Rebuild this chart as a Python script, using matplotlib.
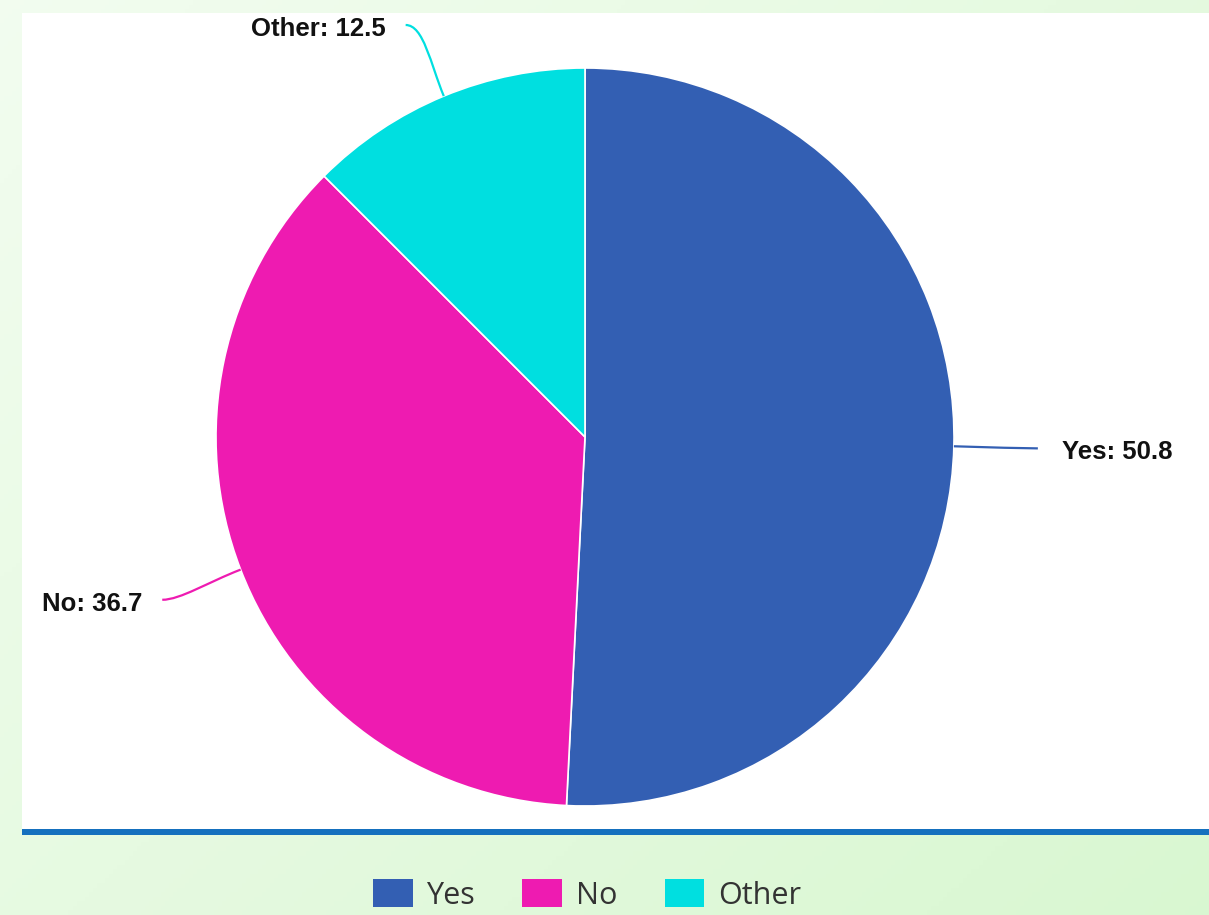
import numpy as np
import matplotlib
matplotlib.use("Agg")
import matplotlib.pyplot as plt
from matplotlib.patches import Rectangle, PathPatch
from matplotlib.path import Path

# data
labels = ["Yes", "No", "Other"]
values = [50.8, 36.7, 12.5]
colors = ["#335fb3", "#ee1bb1", "#00dfe0"]

W, H = 1209, 915
fig = plt.figure(figsize=(W / 100, H / 100), dpi=100)

# light green background
bg = fig.add_axes([0, 0, 1, 1], zorder=0)
bg.set_axis_off()
gx = np.linspace(0, 1, 300)
gy = np.linspace(0, 1, 200)
X, Y = np.meshgrid(gx, gy)
c0 = np.array([0.95, 0.99, 0.94])
c1 = np.array([0.85, 0.97, 0.82])
t = np.clip(0.55 * X + 0.45 * Y, 0, 1)[..., None]
img = c0 * (1 - t) + c1 * t
bg.imshow(img, extent=[0, 1, 0, 1], aspect="auto", origin="upper")
bg.set_xlim(0, 1)
bg.set_ylim(0, 1)

# main axes in pixel coordinates (y up)
ax = fig.add_axes([0, 0, 1, 1], zorder=1)
ax.set_xlim(0, W)
ax.set_ylim(0, H)
ax.set_axis_off()
ax.patch.set_alpha(0)

# white panel and blue bottom rule
ax.add_patch(Rectangle((22, H - 829), W - 22, 829 - 13, facecolor="white", edgecolor="none", zorder=1))
ax.add_patch(Rectangle((22, H - 835), W - 22, 6, facecolor="#1570be", edgecolor="none", zorder=2))

cx, cy, R = 585, H - 437, 369
wedges, _ = ax.pie(values, colors=colors, startangle=90, counterclock=False,
                   center=(cx, cy), radius=R, frame=True,
                   wedgeprops=dict(edgecolor="white", linewidth=1.2))
for w in wedges:
    w.set_zorder(3)
ax.set_xlim(0, W)
ax.set_ylim(0, H)
ax.set_axis_off()

# connectors and labels
for w, lab, v, col in zip(wedges, labels, values, colors):
    mid = np.deg2rad((w.theta1 + w.theta2) / 2)
    d = np.array([np.cos(mid), np.sin(mid)])
    p0 = np.array([cx, cy]) + R * d
    end = np.array([cx, cy]) + (R + 84) * d
    if lab == "Other":
        end[1] = min(end[1], H - 25)
        end[0] -= 6
    side = 1 if d[0] >= 0 else -1
    p1 = p0 + d * 35
    p2 = end - np.array([side * 18, 0])
    path = Path([p0, p1, p2, end], [Path.MOVETO, Path.CURVE4, Path.CURVE4, Path.CURVE4])
    ax.add_patch(PathPatch(path, facecolor="none", edgecolor=col, lw=1.6, zorder=4))
    ax.text(end[0] + side * (24 if side > 0 else 20), end[1] - 4, f"{lab}: {v}",
            ha="left" if side > 0 else "right",
            va="center", fontsize=18.5, fontweight="bold", family="Liberation Sans",
            color="#111111", zorder=5)

leg = fig.legend(wedges, labels, loc="center", bbox_to_anchor=(587 / W, 20 / H), ncol=3,
                 frameon=False, prop=dict(family="Open Sans", size=22),
                 handlelength=1.3, handleheight=1.0, handletextpad=0.45, columnspacing=1.55)
for txt in leg.get_texts():
    txt.set_color("#333333")
for hnd in leg.legend_handles:
    hnd.set_edgecolor("none")

fig.savefig("out.png", dpi=100)
